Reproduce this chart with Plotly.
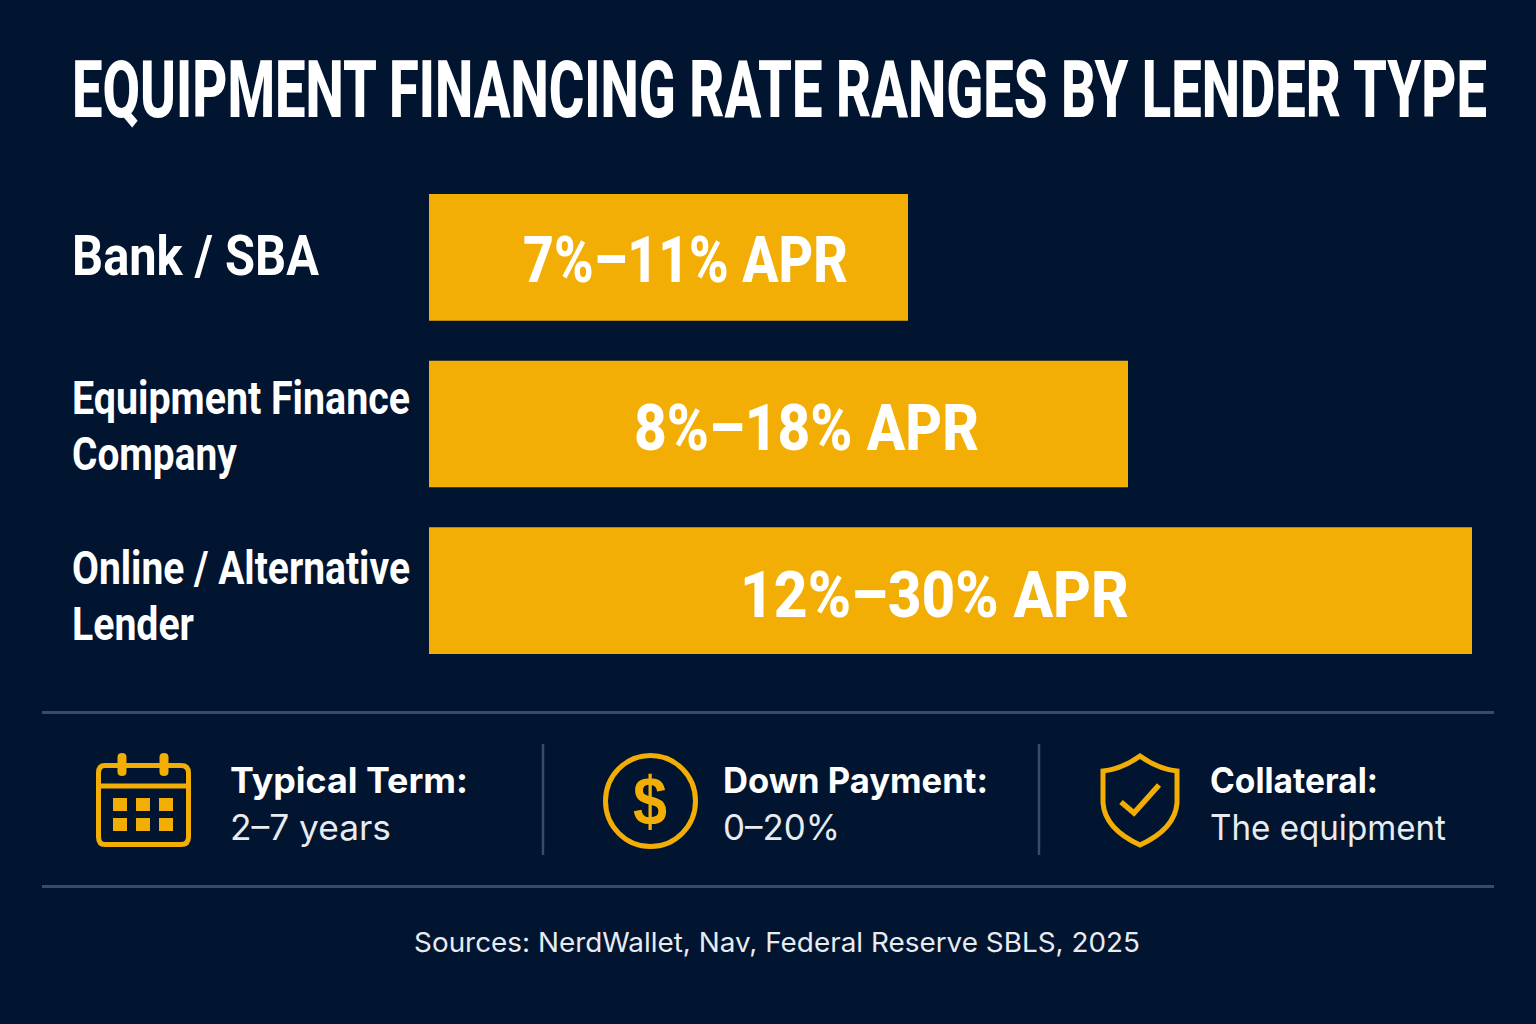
import json
import plotly.graph_objects as go

BG = "#011430"
AMBER = "#f2ae04"
RULE = "#3a4a6b"
W, H = 1536, 1024

lenders = ["Bank / SBA", "Equipment Finance<br>Company", "Online / Alternative<br>Lender"]
rate_labels = ["7%–11% APR", "8%–18% APR", "12%–30% APR"]
bar_lengths = [479, 699, 1043]
facts_head = ["Typical Term:", "Down Payment:", "Collateral:"]
facts_body = ["2–7 years", "0–20%", "The equipment"]
title = "EQUIPMENT FINANCING RATE RANGES BY LENDER TYPE"
source = "Sources: NerdWallet, Nav, Federal Reserve SBLS, 2025"
HEAD_FONT = "Roboto, sans-serif"
BODY_FONT = "Inter, sans-serif"

def X(px): return px / W
def Y(py): return 1 - py / H

fig = go.Figure(go.Bar(
    y=lenders, x=bar_lengths, orientation="h",
    marker=dict(color=AMBER, line=dict(width=0)),
    width=0.76,
    hoverinfo="skip",
))

fig.update_layout(
    width=W, height=H, margin=dict(l=0, r=0, t=0, b=0),
    paper_bgcolor=BG, plot_bgcolor=BG, showlegend=False,
    xaxis=dict(domain=[X(429), X(1472)], range=[0, 1043], visible=False, fixedrange=True),
    yaxis=dict(domain=[Y(674), Y(174)], autorange="reversed", visible=False, fixedrange=True),
)

ann, fits = [], []
def text(left, right, py, s, size, color="#ffffff", font=HEAD_FONT, weight=None):
    """One line of text, later fitted by the page script to run from left to right."""
    f = dict(size=size, color=color, family=font)
    if weight:
        f["weight"] = weight
    ann.append(dict(xref="paper", yref="paper", x=X(left), y=Y(py), text=s,
                    showarrow=False, xanchor="left", yanchor="middle", font=f))
    fits.append([left, right])

text(72, 1487, 90, title, 79, weight=800)

lender_lines = [s.split("<br>") for s in lenders]
text(72, 319, 256, lender_lines[0][0], 55, weight=700)
text(72, 410, 397, lender_lines[1][0], 47, weight=700)
text(72, 237, 453, lender_lines[1][1], 47, weight=700)
text(72, 410, 567, lender_lines[2][0], 47, weight=700)
text(72, 194, 623, lender_lines[2][1], 47, weight=700)

text(523, 848, 260, rate_labels[0], 64, weight=800)
text(634, 979, 428, rate_labels[1], 64, weight=800)
text(740, 1129, 595, rate_labels[2], 64, weight=800)

text(230, 468, 780, facts_head[0], 35, font=BODY_FONT, weight=700)
text(230, 391, 827, facts_body[0], 35, color="#e8ebf0", font=BODY_FONT, weight=400)
text(723, 988, 780, facts_head[1], 35, font=BODY_FONT, weight=700)
text(723, 840, 827, facts_body[1], 35, color="#e8ebf0", font=BODY_FONT, weight=400)
text(1210, 1378, 780, facts_head[2], 35, font=BODY_FONT, weight=700)
text(1210, 1446, 827, facts_body[2], 35, color="#e8ebf0", font=BODY_FONT, weight=400)
text(414, 1140, 942, source, 27, color="#e8ebf0", font=BODY_FONT, weight=400)
text(633, 667, 801, "$", 68, color=AMBER, font="Liberation Sans, sans-serif", weight=700)

shapes = []
def line(x0, y0, x1, y1, w=3):
    shapes.append(dict(type="line", xref="paper", yref="paper", x0=X(x0), y0=Y(y0), x1=X(x1), y1=Y(y1),
                       line=dict(color=RULE, width=w)))
line(42, 712.5, 1494, 712.5)
line(42, 886.5, 1494, 886.5)
line(543, 744, 543, 855, 2.5)
line(1039, 744, 1039, 855, 2.5)

def P(d):
    out, is_x = [], True
    for t in d.split():
        if t.isalpha():
            out.append(t); is_x = True
        else:
            v = float(t)
            out.append(f"{X(v):.5f}" if is_x else f"{Y(v):.5f}")
            is_x = not is_x
    return " ".join(out)
def ipath(d, w=5, fill=None):
    shapes.append(dict(type="path", xref="paper", yref="paper", path=P(d),
                       line=dict(color=AMBER, width=w), fillcolor=fill or "rgba(0,0,0,0)"))

# calendar icon
ipath("M 105 765.5 L 181 765.5 Q 188.5 765.5 188.5 773 L 188.5 837 Q 188.5 844.5 181 844.5 "
      "L 105 844.5 Q 98.5 844.5 98.5 837 L 98.5 773 Q 98.5 765.5 105 765.5 Z")
ipath("M 98.5 786 L 188.5 786")
for cx in (122, 164):
    ipath(f"M {cx-4.5} 757 Q {cx-4.5} 753 {cx} 753 Q {cx+4.5} 753 {cx+4.5} 757 L {cx+4.5} 772 "
          f"Q {cx+4.5} 776 {cx} 776 Q {cx-4.5} 776 {cx-4.5} 772 Z", w=0, fill=AMBER)
for x0 in (113, 136, 159):
    for y0 in (798, 818):
        ipath(f"M {x0} {y0} L {x0+14} {y0} L {x0+14} {y0+13} L {x0} {y0+13} Z", w=0, fill=AMBER)

# coin icon
shapes.append(dict(type="circle", xref="paper", yref="paper", x0=X(605.5), x1=X(695.5), y0=Y(755.5), y1=Y(846.5),
                   line=dict(color=AMBER, width=5), fillcolor="rgba(0,0,0,0)"))

# shield icon
ipath("M 1140 756 Q 1122 769 1103 771 L 1103 803 Q 1105 829 1140 845 Q 1175 829 1177 803 "
      "L 1177 771 Q 1158 769 1140 756 Z", w=5)
ipath("M 1121 802 L 1134 813 L 1159 785", w=5.5)

fig.update_layout(annotations=ann, shapes=shapes)

fit_script = """
document.body.style.margin = '0';
document.body.style.background = '%s';
var fits = %s;
document.querySelectorAll('text.annotation-text').forEach(function (t, i) {
  var r = t.getBoundingClientRect(), b = t.getBBox();
  var s = (fits[i][1] - fits[i][0]) / r.width, dx = fits[i][0] - r.left;
  t.setAttribute('transform', 'translate(' + (b.x + dx) + ',0) scale(' + s + ',1) translate(' + (-b.x) + ',0)');
});
""" % (BG, json.dumps(fits))

fig.write_html("out.html", config={"displayModeBar": False}, post_script=fit_script)
